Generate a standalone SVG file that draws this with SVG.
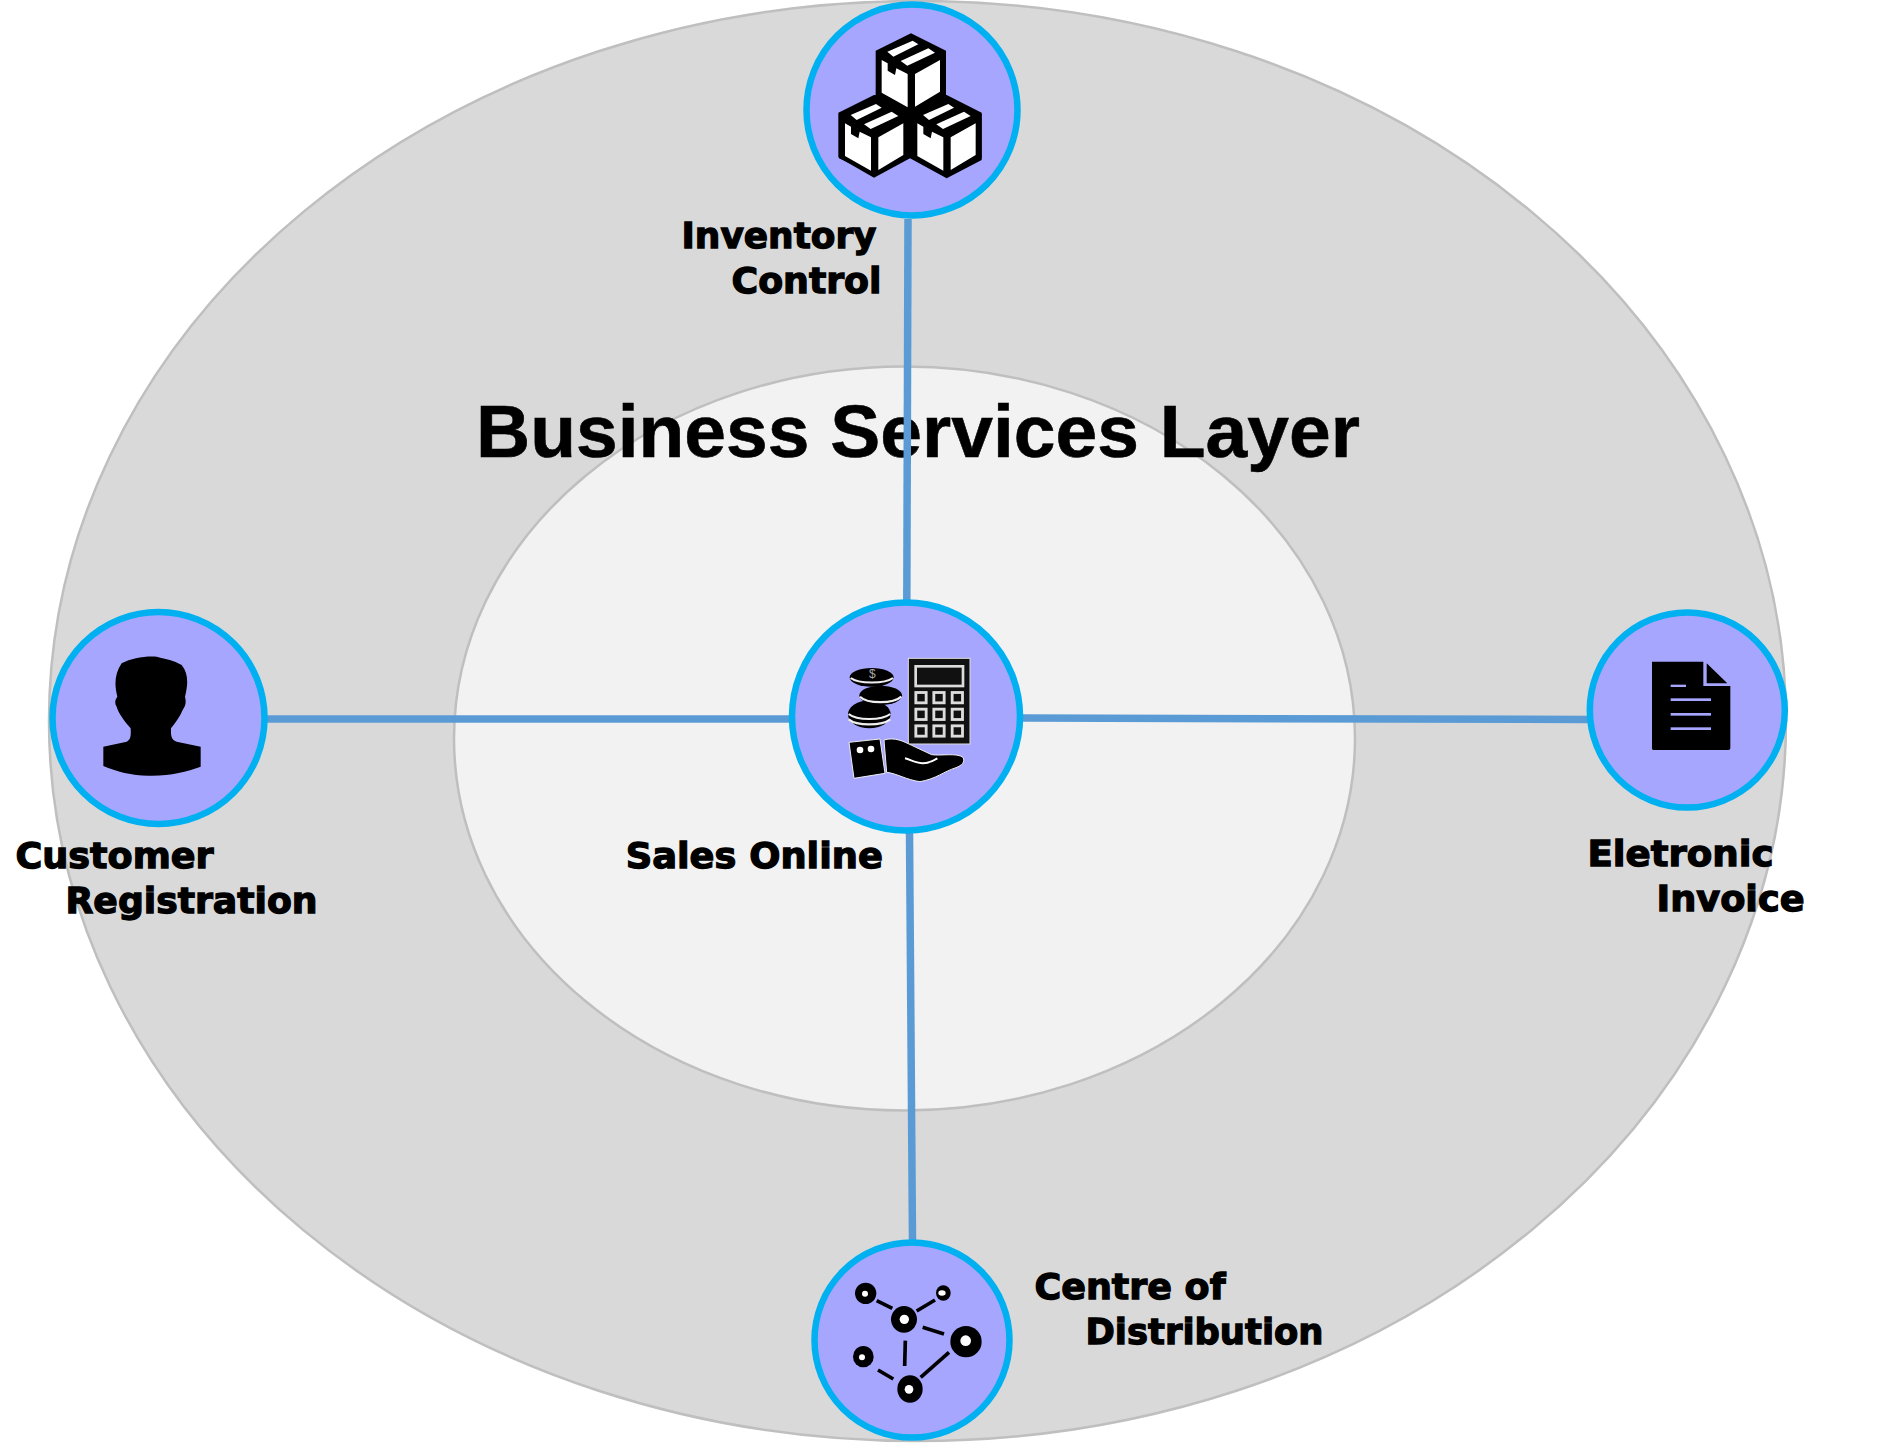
<svg xmlns="http://www.w3.org/2000/svg" width="1902" height="1443" viewBox="0 0 1902 1443">
<style>
.ring{stroke:#BFBFBF;stroke-width:2.5}
.link{stroke:#5B9BD5;stroke-width:7.5;fill:none}
.disc{fill:#A6A6FF;stroke:#00B0F0;stroke-width:6.5}
.lbl{font-family:"DejaVu Sans",sans-serif;font-weight:700;font-size:36px;fill:#000;stroke:#000;stroke-width:1.3}
.title{font-family:"Liberation Sans",Arial,sans-serif;font-weight:700;font-size:75px;fill:#000;stroke:#000;stroke-width:.6}
.k{fill:#000}
.w{fill:#fff}
</style>
<defs>
<g id="box">
<path class="k" d="M393,100L498,152V285L393,335L287,285V152Z"/>
<path class="w" d="M305,180L323,190V212L345,225L349,205L383,222V322L305,278Z"/>
<path class="w" d="M405,222L480,180V275L405,320Z"/>
<path class="w" d="M322,155L398,122L415,133L340,170Z"/>
<path class="w" d="M362,183L445,145L465,158L382,197Z"/>
</g>
</defs>
<ellipse class="ring" cx="917.5" cy="721" rx="868.5" ry="720" fill="#D9D9D9"/>
<ellipse class="ring" cx="904.5" cy="738.500" rx="450.5" ry="372" fill="#F2F2F2"/>
<text class="title" x="476" y="457">Business Services Layer</text>
<g id="connectors">
<line class="link" x1="908" y1="219" x2="906.800" y2="602"/>
<line class="link" x1="909.500" y1="832" x2="912.5" y2="1241"/>
<line class="link" x1="267" y1="719" x2="792" y2="719"/>
<line class="link" x1="1022" y1="718" x2="1590" y2="719.5"/>
</g>
<g id="inventory-control">
<circle class="disc" cx="912" cy="110" r="105.5"/>
<g transform="translate(780,0) scale(.33333)">
<path class="k" d="M175,338V472L282,533L390,475L500,535L605,480V338L500,285H282Z"/>
<use href="#box" x="-110" y="190"/>
<use href="#box" x="107" y="190"/>
<use href="#box"/>
</g>
<text class="lbl" x="681.500" y="248" textLength="195" lengthAdjust="spacingAndGlyphs">Inventory</text>
<text class="lbl" x="731.500" y="293" textLength="150" lengthAdjust="spacingAndGlyphs">Control</text>
</g>
<g id="sales-online">
<circle class="disc" cx="906" cy="716.500" r="114"/>
<g transform="translate(780,590) scale(.33333)">
<rect x="385" y="205" width="185" height="257" fill="#111" stroke="#ddd" stroke-width="3"/>
<rect x="407" y="229" width="142" height="59" fill="#111" stroke="#ddd" stroke-width="8"/>
<g fill="#111" stroke="#ddd" stroke-width="8.500">
<rect x="407.500" y="307.500" width="31" height="31"/><rect x="461.500" y="307.500" width="31" height="31"/><rect x="516.500" y="307.500" width="31" height="31"/>
<rect x="407.500" y="357.500" width="31" height="31"/><rect x="461.500" y="357.500" width="31" height="31"/><rect x="516.500" y="357.500" width="31" height="31"/>
<rect x="407.500" y="407.500" width="31" height="31"/><rect x="461.500" y="407.500" width="31" height="31"/><rect x="516.500" y="407.500" width="31" height="31"/>
</g>
<ellipse class="k" cx="268" cy="373" rx="64" ry="42"/>
<ellipse class="k" cx="302" cy="316" rx="64" ry="29"/>
<ellipse class="k" cx="275" cy="262" rx="66" ry="28"/>
<g fill="none" stroke="#eee" stroke-width="6.500">
<path d="M206,372C230,392 305,392 331,372"/>
<path d="M206,388C230,408 305,408 331,388"/>
<path d="M240,320C262,342 340,342 364,320"/>
<path d="M212,264C235,282 315,282 339,264"/>
</g>
<text x="277" y="265" font-family="'Liberation Sans',sans-serif" font-size="36" fill="#aaa" text-anchor="middle">$</text>
<path class="k" stroke="#eee" stroke-width="3" d="M207,457L300,447L315,550L222,565Z"/>
<circle class="w" cx="240" cy="480" r="10"/><circle class="w" cx="273" cy="477" r="10"/>
<path class="k" stroke="#eee" stroke-width="3" d="M312,450C345,440 372,455 395,466L455,494C485,498 530,488 549,502C556,516 546,526 528,533C490,545 470,566 420,575C380,570 350,550 320,547Z"/>
<path d="M375,505C400,510 425,535 472,505" fill="none" stroke="#fff" stroke-width="6"/>
</g>
<text class="lbl" x="625.800" y="868" textLength="257" lengthAdjust="spacingAndGlyphs">Sales Online</text>
</g>
<g id="customer-registration">
<circle class="disc" cx="158.500" cy="718" r="106"/>
<path class="k" transform="scale(.33333) translate(0,1800)" d="M310,440L380,425C392,418 393,410 392,385C375,365 355,340 350,320C343,310 345,300 352,290C342,250 345,220 365,190C395,175 430,168 470,170C500,178 520,180 545,195C565,220 565,250 555,290C560,310 555,320 548,330C540,350 525,370 513,385C512,410 515,420 530,425L602,440V500C560,515 510,528 450,527C400,528 350,515 310,498Z"/>
<text class="lbl" x="15.500" y="868" textLength="198" lengthAdjust="spacingAndGlyphs">Customer</text>
<text class="lbl" x="65.500" y="913" textLength="252" lengthAdjust="spacingAndGlyphs">Registration</text>
</g>
<g id="electronic-invoice">
<circle class="disc" cx="1687.300" cy="710" r="97.500"/>
<g transform="translate(1570,600) scale(.33333)">
<path class="k" d="M246,185H400V258H481V445Q481,450 475,450H250Q246,450 246,445Z"/>
<path class="k" d="M410,190L472,250H410Z"/>
<g fill="#A6A6FF">
<rect x="302" y="254" width="46" height="7"/><rect x="302" y="295" width="121" height="8"/><rect x="302" y="339" width="121" height="8"/><rect x="302" y="382" width="121" height="8"/>
</g>
</g>
<text class="lbl" x="1587.500" y="866" textLength="186" lengthAdjust="spacingAndGlyphs">Eletronic</text>
<text class="lbl" x="1656.500" y="911" textLength="148" lengthAdjust="spacingAndGlyphs">Invoice</text>
</g>
<g id="centre-of-distribution">
<circle class="disc" cx="912" cy="1340" r="97.500"/>
<g transform="translate(800,1230) scale(.33333)">
<g stroke="#000" stroke-width="11"><line x1="230" y1="212" x2="277" y2="235"/><line x1="350" y1="243" x2="405" y2="210"/><line x1="368" y1="292" x2="432" y2="312"/><line x1="316" y1="332" x2="314" y2="408"/><line x1="447" y1="367" x2="362" y2="442"/><line x1="234" y1="420" x2="280" y2="447"/></g>
<ellipse class="k" cx="197" cy="190" rx="32" ry="32"/><circle class="w" cx="195" cy="191" r="9"/>
<ellipse class="k" cx="430" cy="189" rx="22" ry="23"/><ellipse class="w" cx="426" cy="189" rx="11" ry="8"/>
<ellipse class="k" cx="312" cy="268" rx="39" ry="40"/><circle class="w" cx="313" cy="268" r="14"/>
<ellipse class="k" cx="498" cy="335" rx="47" ry="47"/><circle class="w" cx="497" cy="332" r="16"/>
<ellipse class="k" cx="190" cy="380" rx="31" ry="32"/><circle class="w" cx="186" cy="382" r="9"/>
<ellipse class="k" cx="330" cy="477" rx="38" ry="41"/><circle class="w" cx="327" cy="478" r="13"/>
</g>
<text class="lbl" x="1034.500" y="1299" textLength="191" lengthAdjust="spacingAndGlyphs">Centre of</text>
<text class="lbl" x="1085.500" y="1344" textLength="238" lengthAdjust="spacingAndGlyphs">Distribution</text>
</g>
</svg>
